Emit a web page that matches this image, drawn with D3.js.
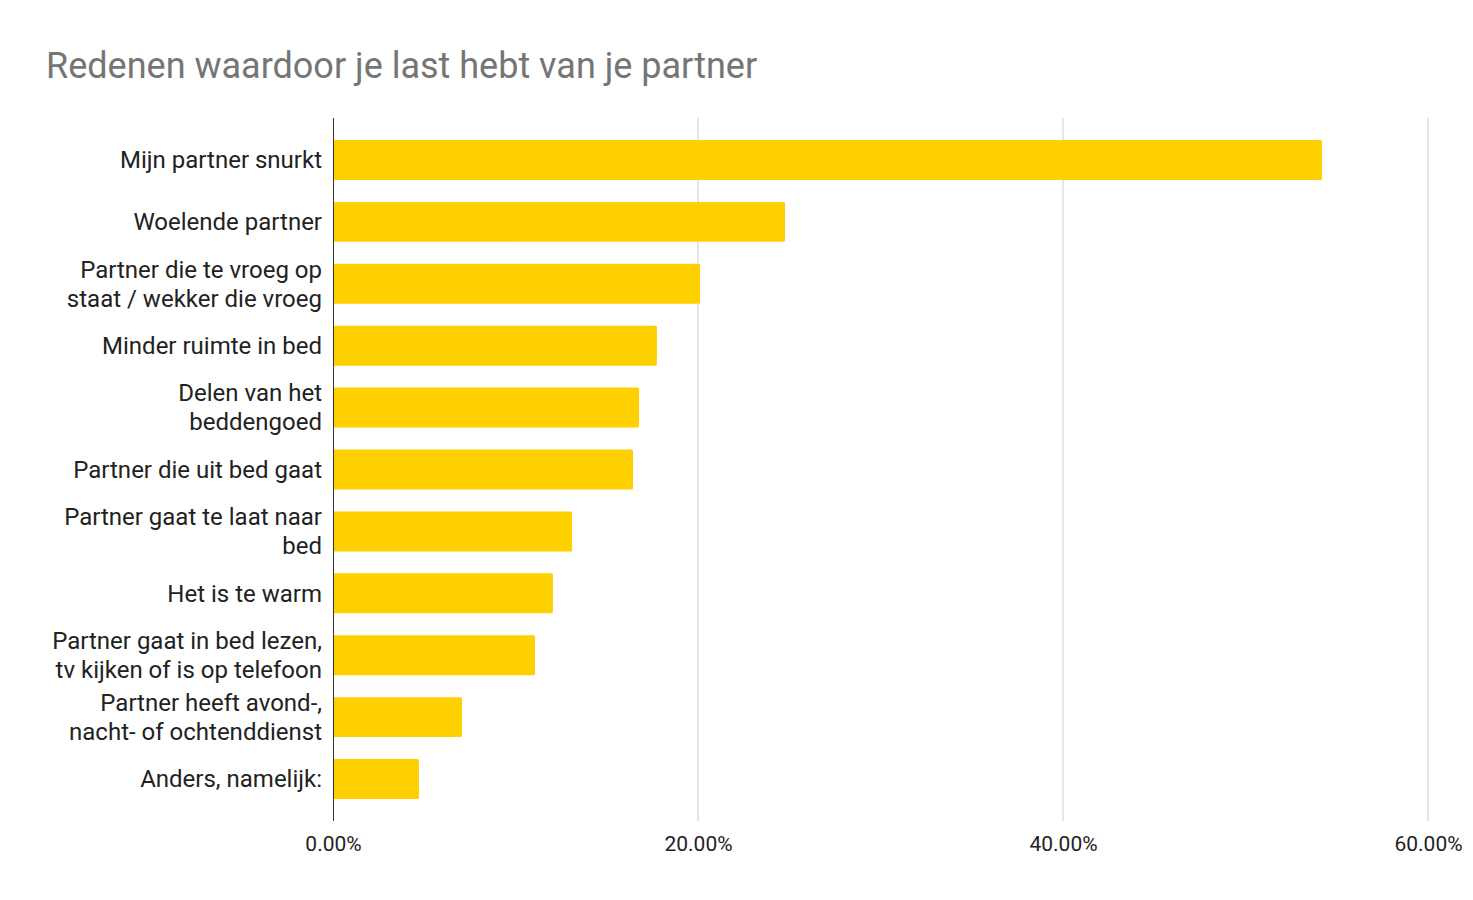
<!DOCTYPE html>
<html><head><meta charset="utf-8">
<script src="https://cdn.jsdelivr.net/npm/d3@7"></script>
<style>body{margin:0;background:#fff;}svg{display:block;font-family:Roboto,sans-serif;}</style>
</head><body><svg id="c" width="1473" height="900"></svg>
<script>
const categories = [
  ["Mijn partner snurkt"],
  ["Woelende partner"],
  ["Partner die te vroeg op", "staat / wekker die vroeg"],
  ["Minder ruimte in bed"],
  ["Delen van het", "beddengoed"],
  ["Partner die uit bed gaat"],
  ["Partner gaat te laat naar", "bed"],
  ["Het is te warm"],
  ["Partner gaat in bed lezen,", "tv kijken of is op telefoon"],
  ["Partner heeft avond-,", "nacht- of ochtenddienst"],
  ["Anders, namelijk:"]
];
const values = [54.19, 24.77, 20.11, 17.75, 16.77, 16.44, 13.10, 12.05, 11.07, 7.07, 4.71];
const tickValues = [0, 20, 40, 60];
const title = "Redenen waardoor je last hebt van je partner";

const svg = d3.select("#c");
const x = d3.scaleLinear().domain([0, 60]).range([333, 1428]);
const y = d3.scaleBand().domain(d3.range(categories.length)).range([118, 821]).paddingInner(0.354).paddingOuter(0.355);

svg.append("text").attr("x", 46).attr("y", 78).attr("font-size", 36).attr("fill", "#757575").text(title);

// gridlines
svg.append("g").selectAll("line").data(tickValues.filter(d => d > 0)).join("line")
  .attr("x1", d => x(d)).attr("x2", d => x(d)).attr("y1", 118).attr("y2", 821)
  .attr("stroke", "#cccccc").attr("stroke-width", 1);

// bars
svg.append("g").selectAll("rect").data(values).join("rect")
  .attr("x", x(0)).attr("y", (d, i) => y(i)).attr("width", d => x(d) - x(0)).attr("height", y.bandwidth())
  .attr("rx", 1.5).attr("fill", "#ffd000");

// baseline axis
svg.append("line").attr("x1", x(0) + 0.5).attr("x2", x(0) + 0.5).attr("y1", 118).attr("y2", 821)
  .attr("stroke", "#333333").attr("stroke-width", 1);

// x tick labels
const xAxis = d3.axisBottom(x).tickValues(tickValues).tickSize(0).tickFormat(d => d.toFixed(2) + "%");
const gx = svg.append("g").attr("transform", "translate(0,836)").call(xAxis);
gx.select(".domain").remove();
gx.selectAll("text").attr("font-size", 21).attr("font-family", "Roboto, sans-serif").attr("fill", "#222").attr("y", 0).attr("dy", "0.71em");

// category labels
const lg = svg.append("g");
categories.forEach((lines, i) => {
  const cy = y(i) + y.bandwidth() / 2;
  const lh = 29;
  const t = lg.append("text").attr("x", 322).attr("text-anchor", "end").attr("font-size", 24).attr("fill", "#222");
  lines.forEach((ln, j) => {
    t.append("tspan").attr("x", 322).attr("y", cy + (j - (lines.length - 1) / 2) * lh).attr("dy", "0.35em").text(ln);
  });
});
</script></body></html>
